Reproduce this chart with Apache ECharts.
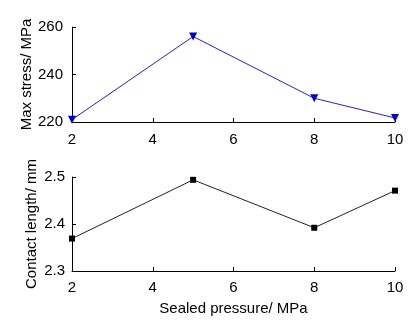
<!DOCTYPE html>
<html><head><meta charset="utf-8">
<script src="https://cdn.jsdelivr.net/npm/echarts@6/dist/echarts.min.js"></script>
<style>html,body{margin:0;padding:0;background:#fff}#c{width:415px;height:322px}</style>
</head><body><div id="c"></div>
<script>
const pressures = [2, 5, 8, 10];
const maxStress = [221, 256, 230, 221.7];
const contactLength = [2.369, 2.494, 2.392, 2.471];
const xTitle = 'Sealed pressure/ MPa';
const yTitleTop = 'Max stress/ MPa';
const yTitleBottom = 'Contact length/ mm';

const font = '"Liberation Sans", Arial, sans-serif';
const axisCommon = {
  axisLine: {show: true, lineStyle: {color: '#000', width: 1}},
  axisTick: {show: true, inside: true, length: 4, lineStyle: {color: '#000'}},
  splitLine: {show: false},
  nameMoveOverlap: false,
  axisLabel: {color: '#000', fontSize: 15, fontFamily: font},
  nameTextStyle: {color: '#000', fontSize: 15, fontFamily: font}
};
const chart = echarts.init(document.getElementById('c'), null, {renderer: 'canvas'});
chart.setOption({
  animation: false,
  backgroundColor: '#fff',
  grid: [
    {left: 72, right: 20, top: 27, height: 95},
    {left: 72, right: 20, top: 177, height: 94}
  ],
  xAxis: [
    Object.assign({}, axisCommon, {gridIndex: 0, type: 'value', min: 2, max: 10, interval: 2,
      axisLabel: Object.assign({}, axisCommon.axisLabel, {margin: 10})}),
    Object.assign({}, axisCommon, {gridIndex: 1, type: 'value', min: 2, max: 10, interval: 2,
      name: xTitle, nameLocation: 'middle', nameGap: 30,
      axisLabel: Object.assign({}, axisCommon.axisLabel, {margin: 9})})
  ],
  yAxis: [
    Object.assign({}, axisCommon, {gridIndex: 0, type: 'value', min: 220, max: 260, interval: 20,
      name: yTitleTop, nameLocation: 'middle', nameGap: 38,
      axisLabel: Object.assign({}, axisCommon.axisLabel, {margin: 9})}),
    Object.assign({}, axisCommon, {gridIndex: 1, type: 'value', min: 2.3, max: 2.5, interval: 0.1,
      name: yTitleBottom, nameLocation: 'middle', nameGap: 33,
      axisLabel: Object.assign({}, axisCommon.axisLabel, {margin: 7, formatter: v => v.toFixed(1)})})
  ],
  series: [
    {type: 'line', xAxisIndex: 0, yAxisIndex: 0,
      data: pressures.map((p, i) => [p, maxStress[i]]),
      lineStyle: {color: '#2020e0', width: 1},
      itemStyle: {color: '#0000cc'},
      symbol: 'triangle', symbolRotate: 180, symbolSize: 8, showSymbol: true},
    {type: 'line', xAxisIndex: 1, yAxisIndex: 1,
      data: pressures.map((p, i) => [p, contactLength[i]]),
      lineStyle: {color: '#222', width: 1},
      itemStyle: {color: '#000'},
      symbol: 'rect', symbolSize: 6, showSymbol: true}
  ]
});
</script></body></html>
